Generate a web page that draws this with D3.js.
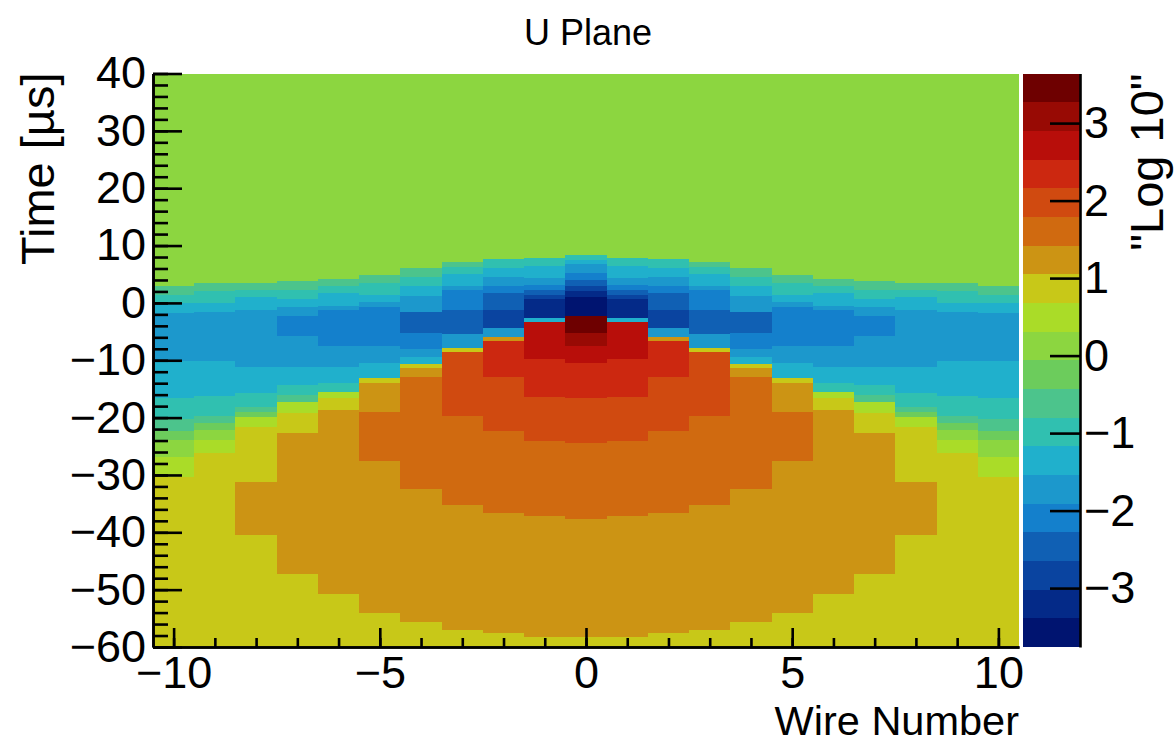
<!DOCTYPE html>
<html>
<head>
<meta charset="utf-8">
<script src="https://cdn.jsdelivr.net/npm/d3@7"></script>
<style>
  html, body { margin: 0; padding: 0; background: #ffffff; }
  svg { display: block; }
  text { font-family: "Liberation Sans", Arial, Helvetica, sans-serif; fill: #000; }
</style>
</head>
<body>
<svg id="chart" width="1176" height="744"></svg>
<script>
// ---------------- data ----------------
const chartTitle = "U Plane";
const xTitle = "Wire Number";
const yTitle = "Time [µs]";
const zTitle = "\"Log 10\"";

const wires = [-10, -9, -8, -7, -6, -5, -4, -3, -2, -1, 0, 1, 2, 3, 4, 5, 6, 7, 8, 9, 10];
const xTickLabels = [-10, -5, 0, 5, 10];
const yTickLabels = [-60, -50, -40, -30, -20, -10, 0, 10, 20, 30, 40];
const zTickLabels = [-3, -2, -1, 0, 1, 2, 3];
const zLimits = [-3.76, 3.64];
const paletteColors = [
  "#001470", "#042a88", "#0a44a0", "#1060b4", "#1480cc",
  "#1c98cc", "#20b0cc", "#30c0b0", "#4cc48c", "#6ccc5c",
  "#8cd640", "#aadc28", "#c8c818", "#cc9414", "#d06a10",
  "#d04a10", "#cc2810", "#b80e0a", "#980a04", "#6e0000"
];

// time-bin edges [µs] (top to bottom) and log10 values per |wire| profile
const w0_t = [40, 8.4, 7.4, 6.7, 5.3, 4.0, 3.0, 2.0, 1.0, -2.3, -5.3, -7.6, -10.5, -16.6, -24.5, -37.6, -58.3, -60];
const w0_z = [0, -0.99, -1.36, -1.73, -2.10, -2.47, -2.84, -3.21, -3.58, 3.45, 3.08, 2.71, 2.34, 1.97, 1.60, 1.23, 0.86];
const w1_t = [40, 7.9, 6.4, 4.4, 3.2, 2.3, 1.4, 0.6, -2.6, -3.4, -9.8, -16.4, -24.0, -37.2, -58.2, -60];
const w1_z = [0, -0.99, -1.36, -1.73, -2.10, -2.47, -2.84, -3.21, -1.36, 2.71, 2.34, 1.97, 1.60, 1.23, 0.86];
const w2_t = [40, 7.6, 6.1, 4.6, 2.9, 1.7, -1.2, -4.4, -6.0, -6.7, -13.0, -22.4, -36.6, -57.6, -60];
const w2_z = [0, -0.99, -1.36, -1.73, -2.10, -2.47, -2.84, -1.73, 1.23, 2.34, 1.97, 1.60, 1.23, 0.86];
const w3_t = [40, 7.2, 6.2, 5.0, 3.0, 2.3, -1.2, -5.5, -7.9, -8.6, -19.7, -35.3, -57.0, -60];
const w3_z = [0, -0.62, -0.99, -1.36, -1.73, -2.10, -2.47, -1.73, 0.86, 1.97, 1.60, 1.23, 0.86];
const w4_t = [40, 6.1, 4.6, 2.9, 1.2, -1.5, -5.3, -8.0, -9.5, -10.6, -11.4, -13.0, -32.4, -55.7, -60];
const w4_z = [0, -0.62, -0.99, -1.36, -1.73, -2.47, -2.10, -1.73, -1.36, 0.86, 1.23, 1.60, 1.23, 0.86];
const w5_t = [40, 4.9, 3.5, 1.4, 0.2, -0.8, -7.6, -10.5, -13.1, -14.0, -19.1, -27.5, -54.0, -60];
const w5_z = [0, -0.62, -0.99, -1.36, -1.73, -2.10, -1.73, -1.36, 0.86, 1.23, 1.60, 1.23, 0.86];
const w6_t = [40, 4.2, 2.9, 1.7, -0.6, -1.2, -7.6, -11.1, -14.0, -15.5, -16.6, -18.7, -50.7, -60];
const w6_z = [0, -0.62, -0.99, -1.36, -1.73, -2.10, -1.73, -1.36, -0.99, 0.49, 0.86, 1.23, 0.86];
const w7_t = [40, 3.8, 2.3, 0.6, -0.8, -2.3, -5.8, -11.1, -14.3, -16.0, -17.2, -19.2, -22.7, -47.2, -60];
const w7_z = [0, -0.62, -0.99, -1.36, -1.73, -2.10, -1.73, -1.36, -0.99, -0.62, 0.49, 0.86, 1.23, 0.86];
const w8_t = [40, 3.5, 2.3, 1.1, -1.2, -11.1, -15.7, -18.1, -19.0, -19.9, -21.6, -31.2, -40.5, -60];
const w8_z = [0, -0.62, -0.99, -1.36, -1.73, -1.36, -0.99, -0.62, -0.25, 0.49, 0.86, 1.23, 0.86];
const w9_t = [40, 3.5, 2.1, 0.0, -1.5, -10.2, -16.3, -19.8, -21.0, -22.2, -23.9, -26.2, -60];
const w9_z = [0, -0.62, -0.99, -1.36, -1.73, -1.36, -0.99, -0.62, -0.25, 0.0, 0.49, 0.86];
const w10_t = [40, 3.0, 1.4, 0.0, -1.8, -10.2, -16.6, -20.3, -22.4, -23.9, -26.8, -30.3, -60];
const w10_z = [0, -0.62, -0.99, -1.36, -1.73, -1.36, -0.99, -0.62, -0.25, 0.0, 0.49, 0.86];

const profileTimes = [w0_t, w1_t, w2_t, w3_t, w4_t, w5_t, w6_t, w7_t, w8_t, w9_t, w10_t];
const profileValues = [w0_z, w1_z, w2_z, w3_z, w4_z, w5_z, w6_z, w7_z, w8_z, w9_z, w10_z];

// ---------------- layout ----------------
const frame = { left: 153, right: 1019, top: 73.5, bottom: 647 };
const cbar = { left: 1023, right: 1080 };
const labelSize = 45;
const titleSize = 47;

const svg = d3.select("#chart");

const x = d3.scaleLinear().domain([-10.5, 10.5]).range([frame.left, frame.right]);
const y = d3.scaleLinear().domain([-60, 40]).range([frame.bottom, frame.top]);
const zColor = d3.scaleQuantize().domain(zLimits).range(paletteColors);
const zPos = d3.scaleLinear().domain(zLimits).range([frame.bottom, frame.top]);

// cells
const cells = [];
wires.forEach(w => {
  const ts = profileTimes[Math.abs(w)];
  const zs = profileValues[Math.abs(w)];
  zs.forEach((z, i) => cells.push({ w: w, t0: ts[i], t1: ts[i + 1], z: z }));
});

svg.append("g")
  .attr("shape-rendering", "crispEdges")
  .selectAll("rect")
  .data(cells)
  .join("rect")
  .attr("x", d => x(d.w - 0.5))
  .attr("width", d => x(d.w + 0.5) - x(d.w - 0.5))
  .attr("y", d => y(d.t0))
  .attr("height", d => y(d.t1) - y(d.t0))
  .attr("fill", d => zColor(d.z));

// axes helpers
function styleAxis(g) {
  g.attr("font-size", labelSize)
   .attr("font-family", "\"Liberation Sans\", Arial, Helvetica, sans-serif");
  g.selectAll("path.domain").attr("stroke", "#000").attr("stroke-width", 2.6);
  g.selectAll(".tick line").attr("stroke", "#000").attr("stroke-width", 2.6);
  g.selectAll(".tick text").attr("fill", "#000");
}

// y axis: minor then major
svg.append("g")
  .attr("transform", `translate(${frame.left},0)`)
  .call(d3.axisLeft(y).tickValues(d3.range(-60, 41, 2)).tickSize(-15).tickSizeOuter(0).tickFormat(""))
  .call(styleAxis);
svg.append("g")
  .attr("transform", `translate(${frame.left},0)`)
  .call(d3.axisLeft(y).tickValues(yTickLabels).tickSize(-29).tickSizeOuter(0).tickPadding(7))
  .call(styleAxis);

// x axis: minor then major
svg.append("g")
  .attr("transform", `translate(0,${frame.bottom})`)
  .call(d3.axisBottom(x).tickValues(wires).tickSize(-9).tickSizeOuter(0).tickFormat(""))
  .call(styleAxis);
svg.append("g")
  .attr("transform", `translate(0,${frame.bottom})`)
  .call(d3.axisBottom(x).tickValues(xTickLabels).tickSize(-19).tickSizeOuter(0).tickPadding(9))
  .call(styleAxis);

// colour bar
const zEdges = [zLimits[0], ...zColor.thresholds(), zLimits[1]];
svg.append("g")
  .attr("shape-rendering", "crispEdges")
  .selectAll("rect")
  .data(paletteColors)
  .join("rect")
  .attr("x", cbar.left)
  .attr("width", cbar.right - cbar.left)
  .attr("y", (c, i) => zPos(zEdges[i + 1]))
  .attr("height", (c, i) => zPos(zEdges[i]) - zPos(zEdges[i + 1]))
  .attr("fill", c => c);

svg.append("g")
  .attr("transform", `translate(${cbar.right},0)`)
  .call(d3.axisRight(zPos).tickValues(zTickLabels).tickSize(-30).tickSizeOuter(0).tickPadding(4))
  .call(styleAxis);

// titles
svg.append("text")
  .attr("x", 588).attr("y", 45)
  .attr("text-anchor", "middle")
  .attr("font-size", 36)
  .text(chartTitle);

svg.append("text")
  .attr("x", frame.right).attr("y", 735)
  .attr("text-anchor", "end")
  .attr("font-size", 41.5)
  .text(xTitle);

svg.append("text")
  .attr("transform", `translate(54,${frame.top - 1}) rotate(-90)`)
  .attr("text-anchor", "end")
  .attr("font-size", titleSize)
  .text(yTitle);

svg.append("text")
  .attr("transform", `translate(1163,${frame.top}) rotate(-90)`)
  .attr("text-anchor", "end")
  .attr("font-size", titleSize)
  .text(zTitle);
</script>
</body>
</html>
